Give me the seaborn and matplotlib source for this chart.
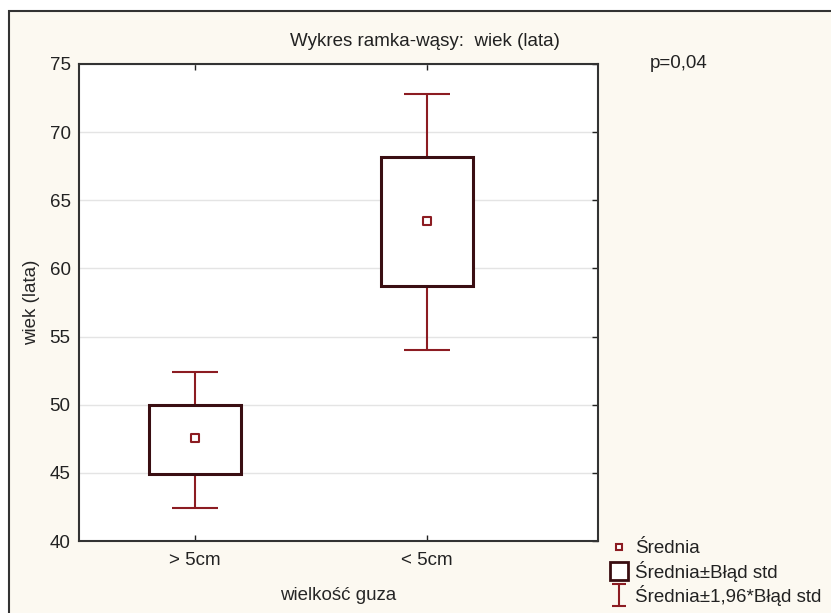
import matplotlib
matplotlib.use("Agg")
import matplotlib.pyplot as plt
import seaborn as sns
import numpy as np
from matplotlib.lines import Line2D
from matplotlib.patches import Rectangle
from matplotlib.path import Path

# ---- data ----
categories = ["> 5cm", "< 5cm"]
means = [47.55, 63.45]
se_low = [44.9, 58.7]
se_high = [49.95, 68.2]
ci_low = [42.4, 54.0]
ci_high = [52.4, 72.8]
yticks = [40, 45, 50, 55, 60, 65, 70, 75]
legend_labels = ["Średnia", "Średnia±Błąd std", "Średnia±1,96*Błąd std"]

W, H = 831, 613
RED = "#8c1c22"
DARK = "#3a0e12"
CREAM = "#fcf9f1"
FS = 13.5

sns.set_theme(style="white")
plt.rcParams["font.family"] = ["Liberation Sans", "DejaVu Sans"]
plt.rcParams["text.color"] = "#222222"

fig = plt.figure(figsize=(W / 100, H / 100), dpi=100)
fig.patch.set_facecolor("white")
fig.patches.append(Rectangle((9 / W, -0.05), 1.05, (1 - 11 / H) + 0.05,
                             transform=fig.transFigure, facecolor=CREAM,
                             edgecolor="#333333", lw=1.5, zorder=-5))

ax = fig.add_axes([79 / W, 1 - 541 / H, (598 - 79) / W, (541 - 64) / H])
ax.set_zorder(2)
ax.set_facecolor("white")

x = np.arange(len(categories))
m = np.array(means)
lo = np.array(ci_low)
hi = np.array(ci_high)

ax.errorbar(x, m, yerr=[m - lo, hi - m], fmt="none", ecolor=RED,
            elinewidth=1.5, capsize=16.5, capthick=1.5, zorder=2)
ax.bar(x, np.array(se_high) - np.array(se_low), bottom=se_low, width=0.4,
       color="white", edgecolor=DARK, linewidth=2.2, zorder=3)
sns.scatterplot(x=x, y=means, marker="s", s=28, color="white",
                edgecolor=RED, linewidth=1.5, zorder=4, ax=ax, legend=False)

ax.set_xlim(-0.5, 1.737)
ax.set_ylim(40, 75)
ax.set_yticks(yticks)
ax.set_xticks(x)
ax.set_xticklabels(categories)
ax.yaxis.grid(True, color="#e4e4e4", lw=1)
ax.xaxis.grid(False)
ax.set_axisbelow(True)
for s in ax.spines.values():
    s.set_visible(True)
    s.set_color("#333333")
    s.set_linewidth(1.5)
ax.tick_params(direction="in", length=4, width=1, top=True, right=True,
               left=False, bottom=True, labelsize=FS, pad=6, colors="#222222")
ax.tick_params(axis="y", pad=6)
ax.tick_params(axis="x", pad=8)

ax.set_xlabel("wielkość guza", fontsize=FS)
ax.xaxis.label.set_va("center")
ax.xaxis.set_label_coords(0.5, -(596 - 541) / (541 - 64))
ax.set_ylabel("wiek (lata)", fontsize=FS)
ax.yaxis.label.set_va("center")
ax.yaxis.set_label_coords(-(79 - 32) / (598 - 79), 0.5)

fig.text(425 / W, 1 - 41 / H, "Wykres ramka-wąsy:  wiek (lata)",
         ha="center", va="center", fontsize=FS)
fig.text(650 / W, 1 - 63 / H, "p=0,04", ha="left", va="center", fontsize=FS)

ibeam = Path([(-0.6, -1), (0.6, -1), (0, -1), (0, 1), (-0.6, 1), (0.6, 1)],
             [Path.MOVETO, Path.LINETO, Path.MOVETO, Path.LINETO,
              Path.MOVETO, Path.LINETO])
handles = [
    Line2D([], [], ls="none", marker="s", ms=5, mfc="white", mec=RED, mew=1.5),
    Line2D([], [], ls="none", marker="s", ms=13, mfc="white", mec=DARK, mew=2),
    Line2D([], [], ls="none", marker=ibeam, ms=16, mec=RED, mew=1.5, mfc="none"),
]
fig.legend(handles, legend_labels, loc="upper left",
           bbox_to_anchor=(610 / W, 1 - 540 / H), frameon=False,
           fontsize=FS, handlelength=1.0, handletextpad=0.35,
           labelspacing=0.18, borderaxespad=0, borderpad=0)

fig.savefig("out.png", dpi=100, facecolor=fig.get_facecolor())
